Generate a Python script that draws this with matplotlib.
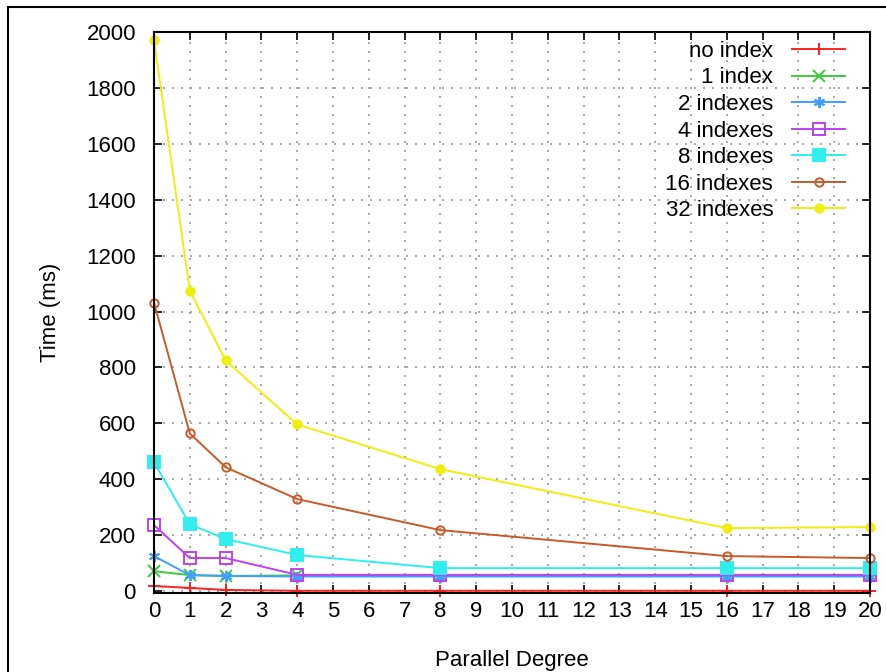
import matplotlib
matplotlib.use("Agg")
import matplotlib.pyplot as plt
from matplotlib.patches import Rectangle

plt.rcParams['font.family'] = ['Liberation Sans', 'DejaVu Sans']

degrees = [0, 1, 2, 4, 8, 16, 20]
labels = ["no index", "1 index", "2 indexes", "4 indexes", "8 indexes", "16 indexes", "32 indexes"]
no_index = [18, 11, 4, 1, 1, 1, 1]
idx1 = [71, 57, 54, 56, 56, 56, 56]
idx2 = [125, 57, 54, 52, 52, 52, 52]
idx4 = [236, 118, 118, 58, 58, 58, 58]
idx8 = [461, 239, 186, 129, 82, 82, 82]
idx16 = [1032, 564, 443, 329, 218, 125, 118]
idx32 = [1970, 1075, 825, 596, 436, 225, 229]
series = [no_index, idx1, idx2, idx4, idx8, idx16, idx32]

colors = ["#ff2020", "#3ccc3c", "#3f9fff", "#c040f0", "#30eeee", "#c85a28", "#eeee10"]
markers = ["+", "x", (6, 2, 0), "s", "s", "o", "o"]
fills = ["full", "full", "full", "none", "full", "none", "full"]
msizes = [9, 8, 8, 8, 8, 6, 6]

fig = plt.figure(figsize=(8.87, 6.72), dpi=100)
ax = fig.add_axes([154/887, 1 - 593/672, (870 - 154)/887, (593 - 32)/672])

for ys, lab, c, m, f, ms in zip(series, labels, colors, markers, fills, msizes):
    ax.plot(degrees, ys, color=c, marker=m, fillstyle=f, markersize=ms,
            markeredgewidth=1.4, linewidth=1.4, label=lab, clip_on=False)

ax.set_xlim(0, 20)
ax.set_ylim(-7, 2000)
ax.set_xticks(range(0, 21))
ax.set_yticks(range(0, 2001, 200))
ax.tick_params(direction='in', top=True, right=True, length=6, width=1.2,
               labelsize=16, colors='black')
ax.tick_params(axis='y', pad=13)
ax.tick_params(axis='x', pad=6)
ax.grid(True, color='#999999', linestyle=(0, (1.2, 4.2)), linewidth=1.2)
for s in ax.spines.values():
    s.set_linewidth(1.5)
    s.set_color('black')

ax.set_xlabel("Parallel Degree", fontsize=16, labelpad=20)
ax.set_ylabel("Time (ms)", fontsize=16, labelpad=18)

leg = ax.legend(loc='upper right', markerfirst=False, frameon=False, fontsize=16,
                handlelength=2.4, handletextpad=0.85, labelspacing=0.25,
                borderaxespad=0.0, bbox_to_anchor=(0.978, 1.0))

fig.patches.append(Rectangle((8/887, -0.01), 1.0, 1 - 7/672 + 0.01, transform=fig.transFigure,
                             fill=False, edgecolor='black', linewidth=1.5))

fig.savefig("out.png", dpi=100)
